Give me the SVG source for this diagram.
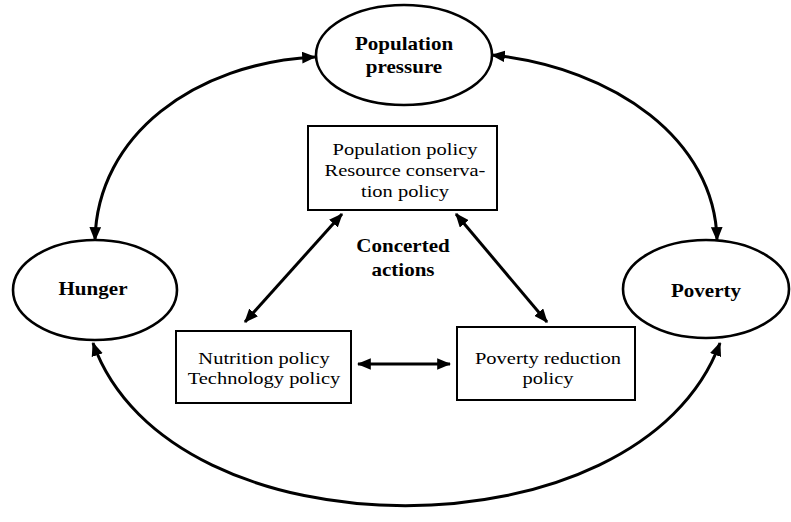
<svg xmlns="http://www.w3.org/2000/svg" width="791" height="522" viewBox="0 0 791 522">
  <style>
    .ell { fill: none; stroke: #000; stroke-width: 2.6; }
    .box { fill: #fff; stroke: #000; stroke-width: 2; }
    .lbl { font-family: "Liberation Serif", "Times New Roman", serif; font-size: 17.5px; fill: #000; text-anchor: middle; }
    .b { font-weight: bold; font-size: 18px; }
    .link { fill: none; stroke: #000; stroke-width: 3; marker-start: url(#ah); marker-end: url(#ah); }
  </style>
  <defs>
    <marker id="ah" viewBox="0 0 12 10" refX="11" refY="5" markerUnits="userSpaceOnUse" markerWidth="14" markerHeight="12" orient="auto-start-reverse">
      <path d="M0,0 L12,5 L0,10 Z" fill="#000"/>
    </marker>
  </defs>
  <rect width="791" height="522" fill="#fff"/>

  <g id="connectors">
    <path class="link" d="M315,57 C195,63 97,135 95,240"/>
    <path class="link" d="M492,55 C615,68 715,140 717,240"/>
    <path class="link" d="M93,343 C170,560 640,560 720,343"/>
    <path class="link" d="M342,214 L245,322"/>
    <path class="link" d="M456,214 L547,322"/>
    <path class="link" d="M358,364 L450,364"/>
  </g>

  <!-- labels are set in a wide face: each text block is stretched horizontally -->
  <g id="population-pressure">
    <ellipse class="ell" cx="404" cy="55" rx="88" ry="50"/>
    <g transform="translate(404 0) scale(1.17 1)">
      <text class="lbl b" x="0" y="50">Population</text>
      <text class="lbl b" x="0" y="73">pressure</text>
    </g>
  </g>

  <g id="hunger">
    <ellipse class="ell" cx="95" cy="290" rx="82" ry="50"/>
    <g transform="translate(93 0) scale(1.17 1)">
      <text class="lbl b" x="0" y="295">Hunger</text>
    </g>
  </g>

  <g id="poverty">
    <ellipse class="ell" cx="706" cy="289" rx="83" ry="49"/>
    <g transform="translate(706 0) scale(1.17 1)">
      <text class="lbl b" x="0" y="297">Poverty</text>
    </g>
  </g>

  <g id="policy-population">
    <rect class="box" x="308" y="126" width="189" height="84"/>
    <g transform="translate(405 0) scale(1.17 1)">
      <text class="lbl" x="0" y="155">Population policy</text>
      <text class="lbl" x="0" y="176">Resource conserva-</text>
      <text class="lbl" x="0" y="197">tion policy</text>
    </g>
  </g>

  <g id="concerted-actions">
    <g transform="translate(403 0) scale(1.17 1)">
      <text class="lbl b" x="0" y="252">Concerted</text>
      <text class="lbl b" x="0" y="276">actions</text>
    </g>
  </g>

  <g id="policy-nutrition">
    <rect class="box" x="176" y="331" width="175" height="72"/>
    <g transform="translate(264 0) scale(1.17 1)">
      <text class="lbl" x="0" y="364">Nutrition policy</text>
      <text class="lbl" x="0" y="384">Technology policy</text>
    </g>
  </g>

  <g id="policy-poverty">
    <rect class="box" x="457" y="327" width="178" height="73"/>
    <g transform="translate(548 0) scale(1.17 1)">
      <text class="lbl" x="0" y="364">Poverty reduction</text>
      <text class="lbl" x="0" y="384">policy</text>
    </g>
  </g>
</svg>
